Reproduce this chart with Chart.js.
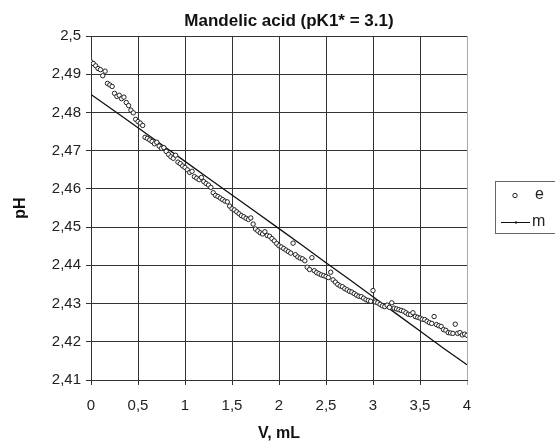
<!DOCTYPE html>
<html>
<head>
<meta charset="utf-8">
<script src="https://cdn.jsdelivr.net/npm/chart.js@4.4.1/dist/chart.umd.min.js"></script>
<style>
  body { margin: 0; background: #fff; }
</style>
</head>
<body>
<canvas id="phChart" width="555" height="444"></canvas>
<script>
Chart.defaults.font.family = "'Liberation Sans', Arial, sans-serif"
Chart.defaults.color = '#222'

// experimental points (e)
const volumes = [
  0, 0.025, 0.05, 0.075, 0.1, 0.125, 0.15, 0.175, 0.2, 0.225,
  0.25, 0.275, 0.3, 0.325, 0.35, 0.375, 0.4, 0.425, 0.45, 0.475,
  0.5, 0.525, 0.55, 0.575, 0.6, 0.625, 0.65, 0.675, 0.7, 0.725,
  0.75, 0.775, 0.8, 0.825, 0.85, 0.875, 0.9, 0.925, 0.95, 0.975,
  1, 1.025, 1.05, 1.075, 1.1, 1.125, 1.15, 1.175, 1.2, 1.225,
  1.25, 1.275, 1.3, 1.325, 1.35, 1.375, 1.4, 1.425, 1.45, 1.475,
  1.5, 1.525, 1.55, 1.575, 1.6, 1.625, 1.65, 1.675, 1.7, 1.725,
  1.75, 1.775, 1.8, 1.825, 1.85, 1.875, 1.9, 1.925, 1.95, 1.975,
  2, 2.025, 2.05, 2.075, 2.1, 2.125, 2.15, 2.175, 2.2, 2.225,
  2.25, 2.275, 2.3, 2.325, 2.35, 2.375, 2.4, 2.425, 2.45, 2.475,
  2.5, 2.525, 2.55, 2.575, 2.6, 2.625, 2.65, 2.675, 2.7, 2.725,
  2.75, 2.775, 2.8, 2.825, 2.85, 2.875, 2.9, 2.925, 2.95, 2.975,
  3, 3.025, 3.05, 3.075, 3.1, 3.125, 3.15, 3.175, 3.2, 3.225,
  3.25, 3.275, 3.3, 3.325, 3.35, 3.375, 3.4, 3.425, 3.45, 3.475,
  3.5, 3.525, 3.55, 3.575, 3.6, 3.625, 3.65, 3.675, 3.7, 3.725,
  3.75, 3.775, 3.8, 3.825, 3.85, 3.875, 3.9, 3.925, 3.95, 3.975,
  4
]
const phMeasured = [
  2.4932, 2.4928, 2.4922, 2.4915, 2.4912, 2.4896, 2.4908, 2.4876, 2.4872, 2.4868,
  2.4850, 2.4842, 2.4845, 2.4836, 2.4840, 2.4826, 2.4818, 2.4806, 2.4799, 2.4782,
  2.4776, 2.4772, 2.4766, 2.4735, 2.4732, 2.4728, 2.4724, 2.4718, 2.4722, 2.4712,
  2.4706, 2.4708, 2.4698, 2.4690, 2.4684, 2.4680, 2.4688, 2.4670, 2.4666, 2.4660,
  2.4656, 2.4650, 2.4643, 2.4646, 2.4632, 2.4628, 2.4624, 2.4630, 2.4619, 2.4614,
  2.4610, 2.4604, 2.4590, 2.4583, 2.4580, 2.4576, 2.4572, 2.4568, 2.4566, 2.4555,
  2.4548, 2.4545, 2.4540, 2.4535, 2.4530, 2.4527, 2.4523, 2.4520, 2.4524, 2.4508,
  2.4495, 2.4490, 2.4485, 2.4482, 2.4488, 2.4478, 2.4476, 2.4470, 2.4464, 2.4457,
  2.4451, 2.4448, 2.4444, 2.4440, 2.4436, 2.4432, 2.4458, 2.4428, 2.4422, 2.4419,
  2.4417, 2.4412, 2.4395, 2.4389, 2.4420, 2.4386, 2.4381, 2.4378, 2.4375, 2.4373,
  2.4371, 2.4368, 2.4382, 2.4362, 2.4356, 2.4350, 2.4346, 2.4344, 2.4339, 2.4336,
  2.4332, 2.4330, 2.4326, 2.4322, 2.4319, 2.4318, 2.4314, 2.4310, 2.4308, 2.4306,
  2.4334, 2.4304, 2.4302, 2.4298, 2.4294, 2.4292, 2.4296, 2.4290, 2.4302, 2.4288,
  2.4286, 2.4284, 2.4282, 2.4280, 2.4276, 2.4272, 2.4271, 2.4276, 2.4266, 2.4264,
  2.4262, 2.4259, 2.4258, 2.4254, 2.4250, 2.4248, 2.4266, 2.4245, 2.4242, 2.4240,
  2.4232, 2.4230, 2.4224, 2.4223, 2.4222, 2.4246, 2.4222, 2.4224, 2.4218, 2.4220,
  2.4217
]

// model curve (m)
const modelVolumes = [0, 0.25, 0.5, 0.75, 1, 1.25, 1.5, 1.75, 2, 2.25, 2.5, 2.75, 3, 3.25, 3.5, 3.75, 4]
const phModel = [
  2.4847, 2.4804, 2.4760, 2.4716, 2.4672, 2.4628, 2.4584, 2.4540, 2.4496,
  2.4452, 2.4407, 2.4363, 2.4318, 2.4273, 2.4228, 2.4183, 2.4140
]

const seriesNames = ['e', 'm']
const chartTitle = 'Mandelic acid (pK1* = 3.1)'
const xTitle = 'V, mL'
const yTitle = 'pH'

const comma = v => String(Math.round(v * 100) / 100).replace('.', ',')

// title + legend box drawn by hand so they sit where the original has them
const extras = {
  id: 'extras',
  afterDraw: chart => {
    const ctx = chart.ctx
    const sets = chart.data.datasets
    ctx.save()

    ctx.fillStyle = '#111'
    ctx.font = "bold 17px 'Liberation Sans', Arial, sans-serif"
    ctx.textAlign = 'center'
    ctx.textBaseline = 'alphabetic'
    ctx.fillText(chartTitle, 289, 26)

    ctx.strokeStyle = '#666'
    ctx.lineWidth = 1
    ctx.strokeRect(495.5, 181.5, 70, 52)

    // e: open circle
    ctx.beginPath()
    ctx.arc(515, 195.5, 2.2, 0, Math.PI * 2)
    ctx.fillStyle = '#fff'
    ctx.fill()
    ctx.strokeStyle = '#222'
    ctx.stroke()

    // m: line with a tiny marker
    ctx.beginPath()
    ctx.moveTo(501, 222.5)
    ctx.lineTo(530, 222.5)
    ctx.strokeStyle = '#111'
    ctx.stroke()
    ctx.fillStyle = '#111'
    ctx.fillRect(515, 221.5, 2, 2)

    ctx.fillStyle = '#222'
    ctx.font = "16px 'Liberation Sans', Arial, sans-serif"
    ctx.textAlign = 'left'
    ctx.textBaseline = 'middle'
    ctx.fillText(sets[0].label, 535, 195)
    ctx.fillText(sets[1].label, 532, 222)
    ctx.restore()
  }
}

const renderPhChart = () => {
  const data = {
    datasets: [{
      label: seriesNames[0],
      data: volumes.map((v, i) => ({ x: v, y: phMeasured[i] })),
      showLine: false,
      pointRadius: 2.2,
      pointBorderWidth: 1,
      pointBorderColor: '#222',
      pointBackgroundColor: '#fff'
    }, {
      label: seriesNames[1],
      data: modelVolumes.map((v, i) => ({ x: v, y: phModel[i] })),
      showLine: true,
      borderColor: '#111',
      borderWidth: 1.3,
      pointRadius: 0,
      tension: 0
    }]
  }

  const options = {
    responsive: false,
    animation: false,
    layout: { padding: { top: 36, right: 88, bottom: 1, left: 0 } },
    plugins: {
      legend: { display: false },
      tooltip: { enabled: false },
      title: { display: false }
    },
    scales: {
      x: {
        type: 'linear',
        min: 0,
        max: 4,
        ticks: { stepSize: 0.5, callback: comma, font: { size: 15 }, padding: 12, maxRotation: 0 },
        grid: { color: ctx => ctx.tick && ctx.tick.value === 4 ? '#aaa' : '#333', tickLength: 5 },
        border: { color: '#333' },
        title: { display: true, text: xTitle, font: { size: 16, weight: 'bold' }, color: '#111', padding: { top: 4, bottom: 0 } },
        afterFit: s => { s.height = 63 }
      },
      y: {
        min: 2.41,
        max: 2.5,
        ticks: { stepSize: 0.01, callback: comma, font: { size: 15 }, padding: 5 },
        grid: { color: '#333', tickLength: 5 },
        border: { color: '#333' },
        title: { display: true, text: yTitle, font: { size: 16, weight: 'bold' }, color: '#111', padding: { top: 11, bottom: 0 } },
        afterFit: s => { s.width = 91 }
      }
    }
  }

  new Chart('phChart', { type: 'scatter', data, options, plugins: [extras] })
}

renderPhChart()
</script>
</body>
</html>
